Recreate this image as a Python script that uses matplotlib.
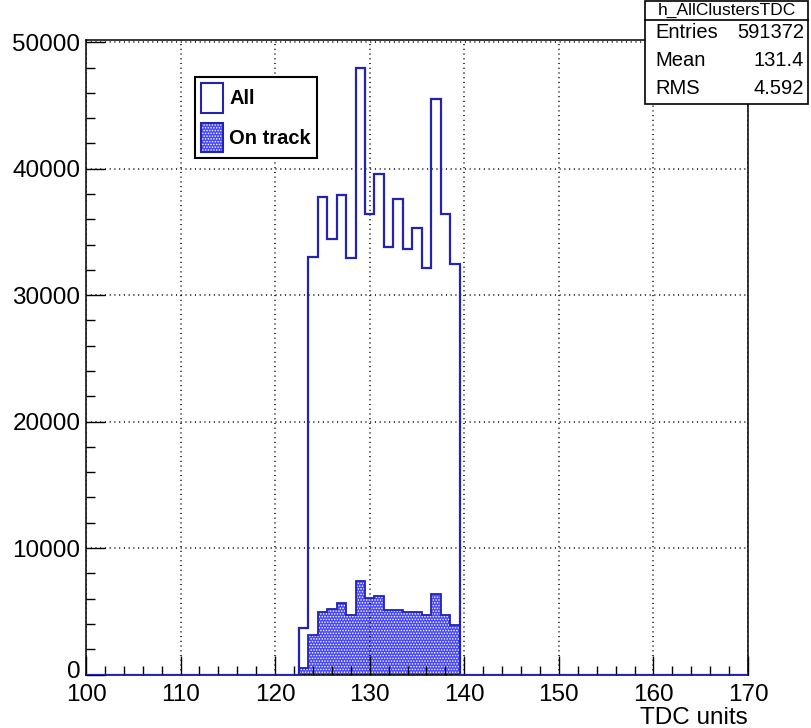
import numpy as np
import matplotlib
matplotlib.use("Agg")
import matplotlib.pyplot as plt
import matplotlib.transforms as mtransforms
from matplotlib.patches import Patch, Rectangle
from matplotlib.lines import Line2D

# TDC bins with non-zero content (bin centres, width 1)
tdc_bins = list(range(123, 140))
all_counts = [3700, 33040, 37740, 34440, 37920, 32900, 47990, 36420, 39580,
              33830, 37600, 33630, 35340, 32120, 45510, 36420, 32470]
on_track_counts = [490, 3150, 4950, 5160, 5630, 4670, 7420, 6060, 6200,
                   5100, 5100, 4970, 4970, 4700, 6370, 4700, 3920]

hist_name = "h_AllClustersTDC"
stat_labels = ["Entries", "Mean", "RMS"]
stat_values = ["591372", "131.4", "4.592"]
legend_labels = ["All", "On track"]

x_range = (100, 170)
x_ticks = [100, 110, 120, 130, 140, 150, 160, 170]
y_ticks = [0, 10000, 20000, 30000, 40000, 50000]

line_blue = "#2323b0"
fill_blue = "#4646ff"

plt.rcParams["font.family"] = ["Liberation Sans", "DejaVu Sans"]
plt.rcParams["hatch.linewidth"] = 0.7

# full histogram over the axis range, empty bins are zero
centres = np.arange(x_range[0] - 1, x_range[1] + 2)
edges = np.append(centres - 0.5, centres[-1] + 0.5)
h_all = np.zeros(len(centres))
h_trk = np.zeros(len(centres))
for b, a, t in zip(tdc_bins, all_counts, on_track_counts):
    h_all[b - centres[0]] = a
    h_trk[b - centres[0]] = t

W, H = 811, 728
fig = plt.figure(figsize=(W / 100, H / 100), dpi=100)
ax = fig.add_axes([86 / W, 1 - 674.5 / H, (748 - 86) / W, (674.5 - 40) / H])

ax.stairs(h_trk, edges, fill=True, facecolor=fill_blue, edgecolor="white",
          hatch="......", linewidth=0, zorder=2)
ax.stairs(h_trk, edges, color=line_blue, linewidth=1.3, zorder=3)
ax.stairs(h_all, edges, color=line_blue, linewidth=1.6, zorder=4)

ax.set_xlim(*x_range)
ax.set_ylim(0, 50180)
ax.set_xticks(x_ticks)
ax.set_xticks(np.arange(x_range[0], x_range[1] + 1, 2), minor=True)
ax.set_yticks(y_ticks)
ax.set_yticks(np.arange(0, 50001, 2000), minor=True)
ax.set_yticklabels([str(v) for v in y_ticks])

ax.tick_params(which="both", direction="in", top=False, right=False,
               color="black", width=1)
ax.tick_params(which="major", length=13.5, labelsize=17.5)
ax.tick_params(axis="y", which="major", pad=4)
ax.tick_params(axis="x", which="major", pad=6.5)
ax.tick_params(which="minor", length=6.5)

# lift the "0" label a little so it sits above "100" as in ROOT
zero_lbl = ax.yaxis.get_major_ticks()[0].label1
zero_lbl.set_transform(zero_lbl.get_transform() +
                       mtransforms.ScaledTranslation(0, 5 / 100, fig.dpi_scale_trans))

ax.grid(True, which="major", linestyle=(0, (0.7, 2.4)), color="black",
        linewidth=1.1)
ax.set_axisbelow(False)
for s in ax.spines.values():
    s.set_color("black")
    s.set_linewidth(1.1)

ax.set_xlabel("TDC units", loc="right", fontsize=17.5, labelpad=1)

# legend
h1 = Patch(facecolor="white", edgecolor=line_blue, linewidth=1.5)
h2 = (Patch(facecolor=fill_blue, edgecolor="white", hatch="......", linewidth=0),
      Patch(facecolor="none", edgecolor=line_blue, linewidth=1.5))
leg = ax.legend([h1, h2], legend_labels, loc="upper left",
                bbox_to_anchor=(195 / W, 1 - 76.7 / H),
                bbox_transform=fig.transFigure, borderaxespad=0,
                prop={"weight": "bold", "size": 14.5},
                handlelength=1.1, handleheight=1.9, labelspacing=0.5,
                borderpad=0.3, handletextpad=0.3, fancybox=False,
                shadow=False, framealpha=1, edgecolor="black")
leg.get_frame().set_linewidth(1.5)

# stats box
bx0, bx1, by0, by1 = 645, 808, 1, 104
fig.patches.append(Rectangle((bx0 / W, 1 - by1 / H), (bx1 - bx0) / W,
                             (by1 - by0) / H, transform=fig.transFigure,
                             facecolor="white", edgecolor="black",
                             linewidth=1.2, zorder=10))
fig.add_artist(Line2D([bx0 / W, bx1 / W], [1 - 20 / H, 1 - 20 / H],
                      transform=fig.transFigure, color="black", lw=1.2,
                      zorder=11))
fig.text((bx0 + bx1) / 2 / W, 1 - 10.5 / H, hist_name, ha="center",
         va="center", fontsize=12.5, zorder=12)
for i, (lab, val) in enumerate(zip(stat_labels, stat_values)):
    yy = 1 - (32 + 28 * i) / H
    fig.text(655 / W, yy, lab, ha="left", va="center", fontsize=14.5, zorder=12)
    fig.text(804 / W, yy, val, ha="right", va="center", fontsize=14.5, zorder=12)

fig.savefig("out.png", dpi=100)
